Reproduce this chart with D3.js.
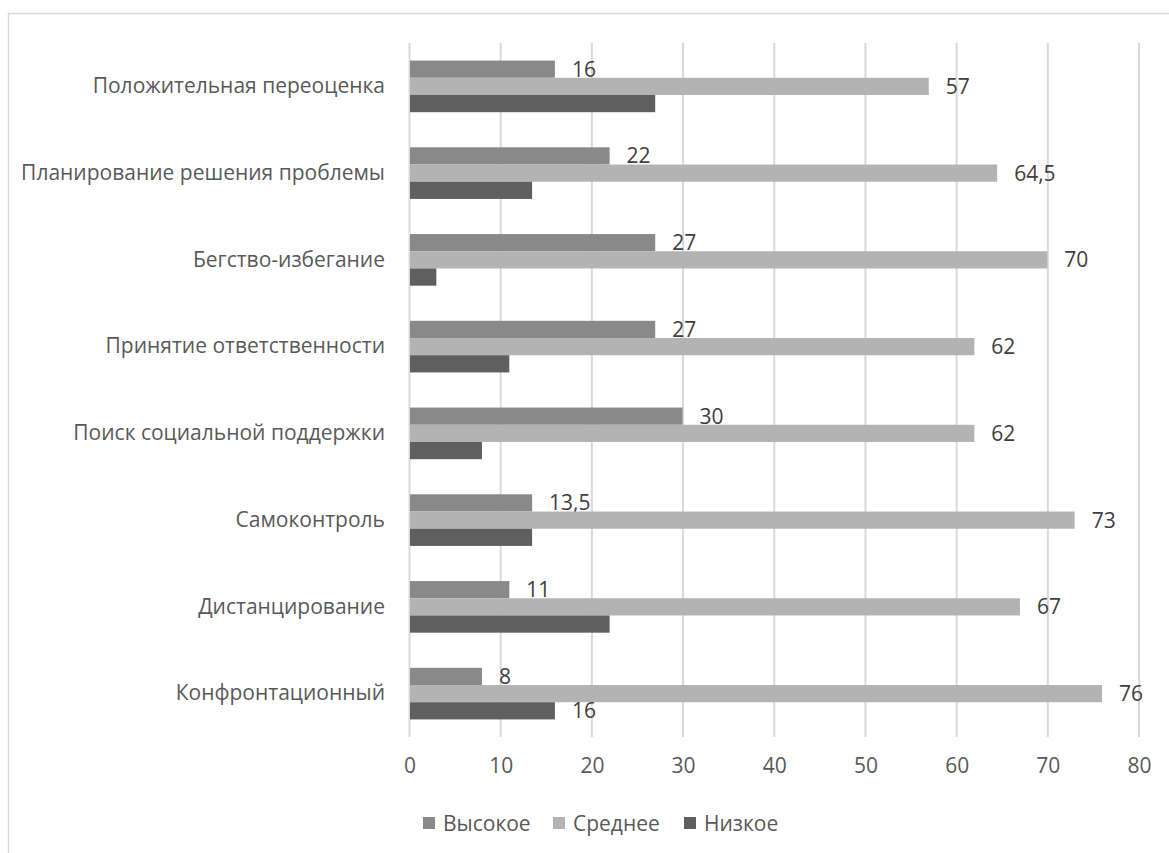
<!DOCTYPE html>
<html><head><meta charset="utf-8">
<script src="https://cdn.jsdelivr.net/npm/d3@7"></script>
<style>body{margin:0;background:#fff;} svg{display:block;}</style>
</head><body>
<script>
const categories = ["Положительная переоценка","Планирование решения проблемы","Бегство-избегание","Принятие ответственности","Поиск социальной поддержки","Самоконтроль","Дистанцирование","Конфронтационный"];
const seriesNames = ["Высокое","Среднее","Низкое"];
const high = [16,22,27,27,30,13.5,11,8];
const mid = [57,64.5,70,62,62,73,67,76];
const low = [27,13.5,3,11,8,13.5,22,16];
const tickValues = [0,10,20,30,40,50,60,70,80];
// which values carry a data label
const showLabel = {
  "Высокое": [true,true,true,true,true,true,true,true],
  "Среднее": [true,true,true,true,true,true,true,true],
  "Низкое": [false,false,false,false,false,false,false,true]
};
const colors = ["#898989","#b3b3b3","#5f5f5f"];
const seriesValues = [high, mid, low];

(function(){
const W = 1169, H = 853;
const font = "'Open Sans', 'Noto Sans', sans-serif";
const fs = 21;
const textColor = "#595959";
const svg = d3.select("body").append("svg").attr("width", W).attr("height", H);

svg.append("rect").attr("x",8.5).attr("y",13.5).attr("width",W+20).attr("height",H+20)
  .attr("fill","none").attr("stroke","#d9d9d9").attr("stroke-width",1.5);

const pl = 409, pr = 1138.5, pt = 43, pb = 737;
const x = d3.scaleLinear().domain([0,80]).range([pl,pr]);
const y0 = d3.scaleBand().domain(categories).range([pt,pb]).paddingInner(0.405).paddingOuter(0.2025);
const y1 = d3.scaleBand().domain(seriesNames).range([0,y0.bandwidth()]);

// gridlines
svg.append("g").selectAll("line").data(tickValues).join("line")
  .attr("x1",d=>x(d)+0.5).attr("x2",d=>x(d)+0.5).attr("y1",pt).attr("y2",pb)
  .attr("stroke","#d9d9d9").attr("stroke-width",2);

// bars
const g = svg.append("g");
seriesNames.forEach((s,si)=>{
  const vals = seriesValues[si];
  g.append("g").selectAll("rect").data(categories).join("rect")
    .attr("x",x(0)+1)
    .attr("y",(c)=>y0(c)+y1(s))
    .attr("width",(c,i)=>x(vals[i])-x(0)-1)
    .attr("height",y1.bandwidth())
    .attr("fill",colors[si]);
  g.append("g").selectAll("text").data(categories.filter((c,i)=>showLabel[s][i])).join("text")
    .attr("x",c=>x(vals[categories.indexOf(c)])+17)
    .attr("y",c=>y0(c)+y1(s)+y1.bandwidth()/2)
    .attr("dy","0.36em")
    .attr("font-family",font).attr("font-size",fs).attr("fill","#404040")
    .text(c=>String(vals[categories.indexOf(c)]).replace(".",","));
});

// category labels
const yAxis = d3.axisLeft(y0).tickSize(0).tickPadding(24);
const ya = svg.append("g").attr("transform",`translate(${pl},0)`).call(yAxis);
ya.select(".domain").remove();
ya.selectAll("text").attr("font-family",font).attr("font-size",fs).attr("fill",textColor);

// x axis labels
const xAxis = d3.axisBottom(x).tickValues(tickValues).tickSize(0).tickPadding(21);
const xa = svg.append("g").attr("transform",`translate(0.5,${pb})`).call(xAxis);
xa.select(".domain").remove();
xa.selectAll("text").attr("font-family",font).attr("font-size",fs).attr("fill",textColor);

// legend
const legendX = [423, 553, 684];
const lg = svg.append("g");
seriesNames.forEach((s,i)=>{
  lg.append("rect").attr("x",legendX[i]).attr("y",817).attr("width",12).attr("height",12).attr("fill",colors[i]);
  lg.append("text").attr("x",legendX[i]+20).attr("y",823).attr("dy","0.36em")
    .attr("font-family",font).attr("font-size",fs).attr("fill",textColor).text(s);
});
})();
</script>
</body></html>
